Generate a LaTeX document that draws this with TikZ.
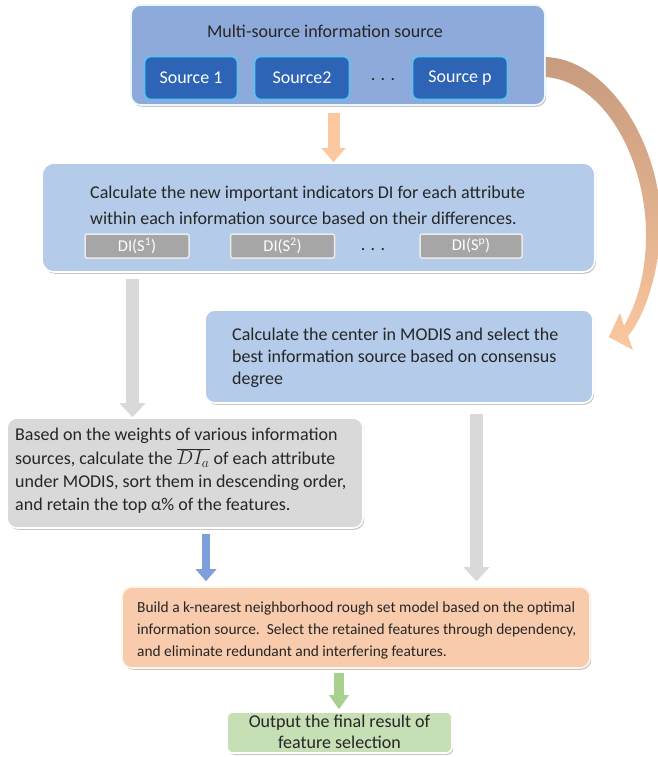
\documentclass[tikz,border=0pt]{standalone}
\usepackage{fontspec}
\setmainfont{Carlito}
\usetikzlibrary{arrows.meta,calc,shadows}
\definecolor{srcblue}{HTML}{8EAADB}
\definecolor{srcdark}{HTML}{2E64B6}
\definecolor{srcrim}{HTML}{5BC3F2}
\definecolor{steplight}{HTML}{B4CBE9}
\definecolor{digray}{HTML}{A6A6A6}
\definecolor{weightgray}{HTML}{D9D9D9}
\definecolor{knnpeach}{HTML}{F8CBAD}
\definecolor{outgreen}{HTML}{C6DFB5}
\definecolor{arrpeach}{HTML}{FBC8A0}
\definecolor{arrblue}{HTML}{7E9FDA}
\definecolor{arrgreen}{HTML}{A9D18E}
\definecolor{bendbrown}{HTML}{C79B7E}
\definecolor{inktext}{HTML}{262626}

\begin{document}
\begin{tikzpicture}[x=1pt, y=-1pt,
    panel/.style={rounded corners=10pt, draw=white, line width=1.6pt, inner sep=0pt,
      drop shadow={shadow xshift=1.2pt, shadow yshift=-1.8pt, opacity=0.45}},
    srcbox/.style={rounded corners=6pt, fill=srcdark, draw=srcrim, line width=1.8pt, inner sep=0pt,
      minimum height=43pt, text=white, font=\fontsize{18}{21}\selectfont},
    dibox/.style={rounded corners=2pt, fill=digray, draw=black!8, line width=1.5pt, inner sep=0pt,
      minimum width=104pt, minimum height=24pt, text=white, font=\fontsize{16.5}{19}\selectfont},
    txt/.style={align=left, inner sep=0pt, text=inktext, font=\fontsize{18}{23}\selectfont},
    blockarrow/.style 2 args={draw=#1, line width=#2, -{Triangle[width=2*#2, length=14pt, line width=0pt]}}
  ]
  \useasboundingbox (0,0) rectangle (658,757);

  \node[panel, fill=srcblue, draw=cyan!8!white, minimum width=414pt, minimum height=100pt] (multi) at (338,55) {};
  \node[txt] (title) at (325,31) {Multi-source information source};
  \node[srcbox, minimum width=93pt] (src1) at (191,78) {Source 1};
  \node[srcbox, minimum width=95pt] (src2) at (302,78) {Source2};
  \node[txt] (srcdots) at (383,80) {. . .};
  \node[srcbox, minimum width=95pt] (srcp) at (460,78) {Source p};

  \node[panel, fill=steplight, rounded corners=12pt, minimum width=553pt, minimum height=109pt] (diBox) at (318.5,217.5) {};
  \node[txt, font=\fontsize{18}{26}\selectfont, anchor=west] (diText) at (90,205)
    {Calculate the new important indicators DI for each attribute\\
     within each information source based on their differences.};
  \node[dibox] (di1) at (137,246) {DI(S\textsuperscript{1})};
  \node[dibox] (di2) at (282.5,246) {DI(S\textsuperscript{2})};
  \node[txt] (didots) at (373,250) {. . .};
  \node[dibox, minimum width=102pt] (dip) at (471,246) {DI(S\textsuperscript{p})};

  \node[panel, fill=steplight, minimum width=388pt, minimum height=93pt] (center) at (399,356.5) {};
  \node[txt, font=\fontsize{18}{22}\selectfont, anchor=west] (centerText) at (232,358)
    {Calculate the center in MODIS and select the\\
     best information source based on consensus\\
     degree};

  \node[panel, fill=weightgray, minimum width=356pt, minimum height=110pt] (weight) at (185,473) {};
  \node[txt, font=\fontsize{18}{23.3}\selectfont, anchor=west] (weightText) at (15,471)
    {Based on the weights of various information\\
     sources, calculate the \scalebox{1.15}{$\overline{DI_a}$} of each attribute\\
     under MODIS, sort them in descending order,\\
     and retain the top α\% of the features.};

  \node[panel, fill=knnpeach, draw=orange!8!white, minimum width=468pt, minimum height=81pt] (knn) at (356,627.5) {};
  \node[txt, font=\fontsize{15.4}{22}\selectfont, anchor=west] (knnText) at (137,630)
    {Build a k-nearest neighborhood rough set model based on the optimal\\
     information source.\ \ Select the retained features through dependency,\\
     and eliminate redundant and interfering features.};

  \node[panel, fill=outgreen, rounded corners=6pt, minimum width=225pt, minimum height=41pt] (out) at (339.5,732.5) {};
  \node[txt, align=center, font=\fontsize{18}{21}\selectfont] (outText) at (339.5,732)
    {Output the final result of\\ feature selection};

  \draw[blockarrow={arrpeach}{12pt}, shorten <=7pt] ([xshift=-4.5pt]multi.south) -- ([xshift=-4.5pt]multi.south |- diBox.north);
  \draw[blockarrow={weightgray}{13pt}, shorten <=6pt] ([xshift=-4.5pt]di1.south |- diBox.south) -- ([xshift=-4.5pt]di1.south |- weight.north);
  \draw[blockarrow={weightgray}{13pt}, shorten <=10pt, shorten >=5pt] ([xshift=77.5pt]center.south) -- ([xshift=77.5pt]center.south |- knn.north);
  \draw[blockarrow={arrblue}{8pt}, -{Triangle[width=21pt, length=12pt, line width=0pt]}, shorten <=5pt, shorten >=5pt] ([xshift=21pt]weight.south) -- ([xshift=21pt]weight.south |- knn.north);
  \draw[blockarrow={arrgreen}{10pt}, shorten <=4pt, shorten >=2pt] ([xshift=-0.5pt]out.north |- knn.south) -- ([xshift=-0.5pt]out.north);

  \coordinate (bendstart) at ($(multi.east)+(0,2)$);
  \coordinate (bendtip) at ($(center.east)+(15,-19.5)$);
  \shade[top color=bendbrown, bottom color=arrpeach, middle color=bendbrown!55!arrpeach]
    (bendstart) .. controls (615,60) and (668,160) .. (660,240)
    .. controls (655,290) and (640,322) .. (628,336)
    -- (633,350) -- (bendtip) -- (620,313) -- (624,326)
    .. controls (636,305) and (646,275) .. (646,235)
    .. controls (646,160) and (605,82) .. ($(bendstart)+(0,20)$) -- cycle;
\end{tikzpicture}
\end{document}
